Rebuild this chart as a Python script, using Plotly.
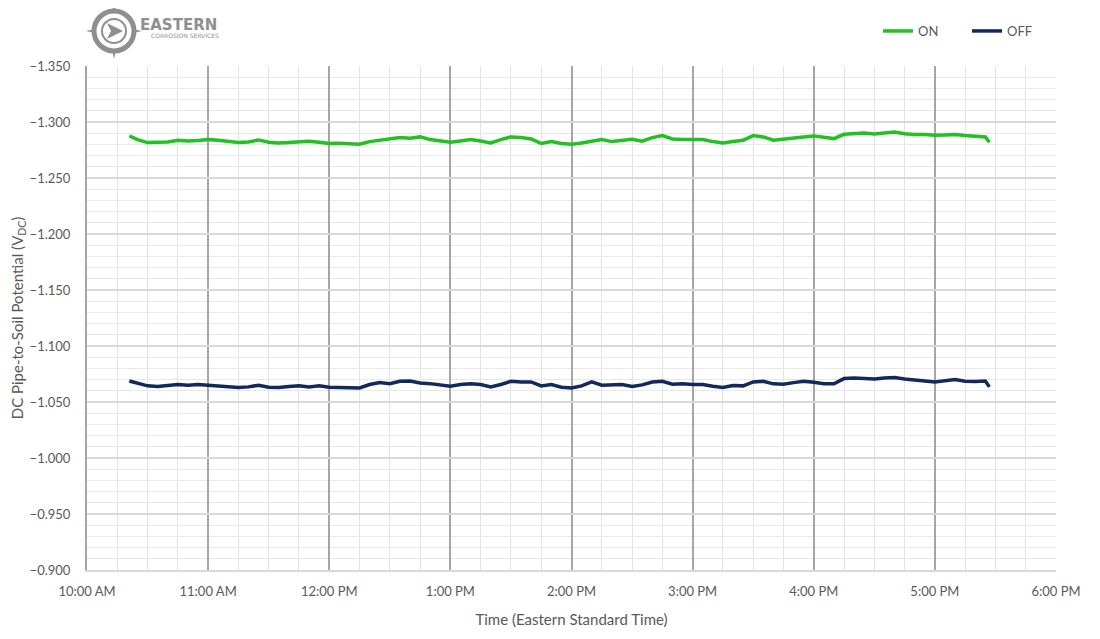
import plotly.graph_objects as go

# Logger readings (time of day, volts DC)
times = [
    "10:21", "10:25", "10:30", "10:35", "10:40", "10:45", "10:50", "10:55",
    "11:00", "11:05", "11:10", "11:15", "11:20", "11:25", "11:30", "11:35", "11:40", "11:45", "11:50", "11:55",
    "12:00", "12:05", "12:10", "12:15", "12:20", "12:25", "12:30", "12:35", "12:40", "12:45", "12:50", "12:55",
    "13:00", "13:05", "13:10", "13:15", "13:20", "13:25", "13:30", "13:35", "13:40", "13:45", "13:50", "13:55",
    "14:00", "14:05", "14:10", "14:15", "14:20", "14:25", "14:30", "14:35", "14:40", "14:45", "14:50", "14:55",
    "15:00", "15:05", "15:10", "15:15", "15:20", "15:25", "15:30", "15:35", "15:40", "15:45", "15:50", "15:55",
    "16:00", "16:05", "16:10", "16:15", "16:20", "16:25", "16:30", "16:35", "16:40", "16:45", "16:50", "16:55",
    "17:00", "17:05", "17:10", "17:15", "17:20", "17:25", "17:27",
]

on_values = [
    -1.2876, -1.2843, -1.2816, -1.2816, -1.2822, -1.2837, -1.2831, -1.2834,
    -1.2843, -1.2837, -1.2825, -1.2816, -1.2822, -1.2840, -1.2819, -1.2813, -1.2816, -1.2819, -1.2828, -1.2819,
    -1.2808, -1.2811, -1.2808, -1.2802, -1.2825, -1.2837, -1.2846, -1.2861, -1.2855, -1.2867, -1.2843, -1.2831,
    -1.2819, -1.2831, -1.2843, -1.2831, -1.2813, -1.2843, -1.2867, -1.2861, -1.2849, -1.2808, -1.2825, -1.2808,
    -1.2802, -1.2813, -1.2831, -1.2843, -1.2825, -1.2837, -1.2846, -1.2828, -1.2861, -1.2879, -1.2849, -1.2843,
    -1.2843, -1.2843, -1.2825, -1.2813, -1.2825, -1.2837, -1.2879, -1.2867, -1.2837, -1.2849, -1.2855, -1.2867,
    -1.2876, -1.2861, -1.2852, -1.2890, -1.2896, -1.2902, -1.2893, -1.2902, -1.2911, -1.2896, -1.2888, -1.2888,
    -1.2882, -1.2885, -1.2888, -1.2879, -1.2870, -1.2867, -1.2819,
]

off_values = [
    -1.0688, -1.0667, -1.0644, -1.0638, -1.0644, -1.0656, -1.0650, -1.0656,
    -1.0650, -1.0641, -1.0635, -1.0629, -1.0635, -1.0650, -1.0632, -1.0629, -1.0638, -1.0644, -1.0635, -1.0644,
    -1.0632, -1.0632, -1.0632, -1.0626, -1.0656, -1.0673, -1.0664, -1.0685, -1.0688, -1.0670, -1.0664, -1.0656,
    -1.0641, -1.0656, -1.0662, -1.0656, -1.0635, -1.0656, -1.0685, -1.0679, -1.0679, -1.0644, -1.0656, -1.0632,
    -1.0626, -1.0644, -1.0679, -1.0650, -1.0650, -1.0656, -1.0638, -1.0653, -1.0679, -1.0685, -1.0659, -1.0662,
    -1.0656, -1.0656, -1.0641, -1.0629, -1.0647, -1.0644, -1.0679, -1.0685, -1.0662, -1.0659, -1.0673, -1.0685,
    -1.0676, -1.0664, -1.0662, -1.0709, -1.0715, -1.0709, -1.0706, -1.0715, -1.0718, -1.0706, -1.0694, -1.0688,
    -1.0679, -1.0691, -1.0700, -1.0685, -1.0682, -1.0688, -1.0635,
]

day = "2021-01-01 "
x = [day + t for t in times]

font = "Lato, Open Sans, sans-serif"
grey_txt = "#595959"
logo_grey = "#8f8f8f"

# page offset of the figure inside the browser window
W, H = 1092, 631
OFF = 8

fig = go.Figure()
fig.add_trace(go.Scatter(x=x, y=on_values, name="ON", mode="lines",
                         line=dict(color="#22c022", width=3.5)))
fig.add_trace(go.Scatter(x=x, y=off_values, name="OFF", mode="lines",
                         line=dict(color="#13295b", width=3.5)))

fig.update_layout(
    width=W,
    height=H,
    margin={"l": 87 - OFF, "r": 44, "t": 66 - OFF, "b": 69, "autoexpand": False},
    plot_bgcolor="white",
    paper_bgcolor="white",
    font=dict(family=font, size=13, color=grey_txt),
    legend=dict(orientation="h", xref="container", yref="container",
                x=(878 - OFF) / W, y=(639 - 31) / H, xanchor="left", yanchor="middle",
                font=dict(size=13, color=grey_txt), itemwidth=30,
                entrywidth=44, entrywidthmode="pixels", bgcolor="rgba(0,0,0,0)"),
)

fig.update_xaxes(
    type="date",
    range=[day + "10:00", day + "18:00"],
    dtick=3600000,
    tick0=day + "10:00",
    tickformat="%-I:%M %p",
    showgrid=True, gridcolor="#a6a6a6", gridwidth=2,
    minor=dict(dtick=900000, showgrid=True, gridcolor="#e3e3e3", gridwidth=1),
    showline=True, linecolor="#d9d9d9", linewidth=2,
    zeroline=False,
    automargin=False,
    ticklabelstandoff=8,
    tickfont=dict(size=13, color=grey_txt),
    title=dict(text="Time (Eastern Standard Time)", font=dict(size=15, color=grey_txt), standoff=17),
)

fig.update_yaxes(
    range=[-0.9, -1.35],
    tick0=-0.9, dtick=0.05,
    tickformat=".3f",
    showgrid=True, gridcolor="#d9d9d9", gridwidth=2,
    minor=dict(dtick=0.01, showgrid=True, gridcolor="#e8e8e8", gridwidth=1),
    showline=True, linecolor="#a6a6a6", linewidth=2,
    zeroline=False,
    automargin=False,
    ticklabelstandoff=12,
    tickfont=dict(size=13, color=grey_txt),
    title=dict(text="DC Pipe-to-Soil Potential (V<sub>DC</sub>)", font=dict(size=15, color=grey_txt), standoff=18),
)

# Company logo (simplified compass badge + name) in the top-left corner
ax_c = (114 - 87) / 969
ay_c = (570 - 31) / 504
logo = dict(xref="paper", yref="paper", xsizemode="pixel", ysizemode="pixel",
            xanchor=ax_c, yanchor=ay_c)
fig.add_shape(type="path", path="M 0,28 L 5,5 L 28,0 L 5,-5 L 0,-28 L -5,-5 L -28,0 L -5,5 Z",
              fillcolor=logo_grey, line=dict(width=0), **logo)
fig.add_shape(type="circle", x0=-20, x1=20, y0=-20, y1=20,
              fillcolor="white", line=dict(color=logo_grey, width=5), **logo)
fig.add_shape(type="circle", x0=-12, x1=12, y0=-12, y1=12,
              fillcolor="white", line=dict(color=logo_grey, width=2), **logo)
fig.add_shape(type="path", path="M -7,8 L 9,0 L -7,-8 L -3,0 Z",
              fillcolor=logo_grey, line=dict(width=0), **logo)

fig.add_annotation(text="<b>EASTERN</b>", xref="paper", yref="paper",
                   x=(138 - 87) / 969, y=(570 - 25) / 504, xanchor="left", yanchor="middle",
                   showarrow=False, font=dict(family="DejaVu Sans", size=15, color=logo_grey))
fig.add_annotation(text="CORROSION SERVICES", xref="paper", yref="paper",
                   x=(149 - 87) / 969, y=(570 - 35) / 504, xanchor="left", yanchor="middle",
                   showarrow=False, font=dict(family="DejaVu Sans", size=6, color=logo_grey))

fig.write_html("out.html")
